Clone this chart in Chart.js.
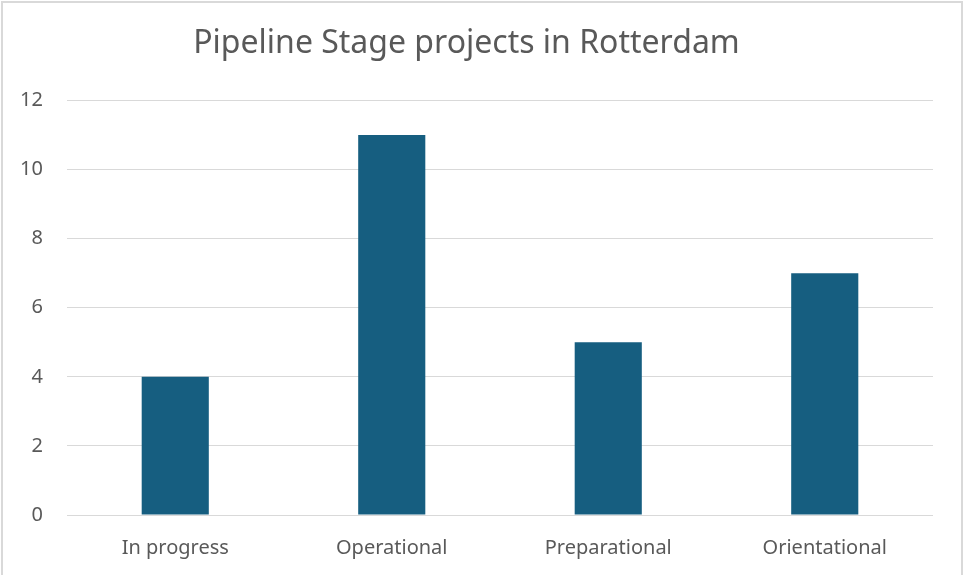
<!DOCTYPE html>
<html>
<head>
<meta charset="utf-8">
<script src="https://cdn.jsdelivr.net/npm/chart.js@4"></script>
<style>
  body { margin: 0; background: #fff; }
  #wrap { position: relative; width: 963px; height: 575px; }
  #frame {
    position: absolute; left: 1px; top: 1px; width: 958px; height: 580px;
    border: 2px solid #d9d9d9; pointer-events: none;
  }
</style>
</head>
<body>
<div id="wrap">
  <canvas id="chart" width="963" height="575"></canvas>
  <div id="frame"></div>
</div>
<script>
const categories = ["In progress", "Operational", "Preparational", "Orientational"];
const projects = [4, 11, 5, 7];
const yTicks = [0, 2, 4, 6, 8, 10, 12];

const textColor = "#595959";
const gridColor = "#d9d9d9";

new Chart(document.getElementById("chart"), {
  type: "bar",
  data: {
    labels: categories,
    datasets: [
      {
        label: "Projects",
        data: projects,
        backgroundColor: "#165e80",
        barPercentage: 0.31,
        categoryPercentage: 1,
      },
    ],
  },
  options: {
    responsive: false,
    animation: false,
    layout: { padding: { left: 0, right: 30, top: 0, bottom: 0 } },
    plugins: {
      legend: { display: false },
      tooltip: { enabled: false },
      title: {
        display: true,
        text: "Pipeline Stage projects in Rotterdam",
        color: textColor,
        font: { family: "Noto Sans", size: 32, weight: "normal", lineHeight: 1.2 },
        padding: { top: 25, bottom: 37 },
      },
    },
    scales: {
      x: {
        grid: { display: false },
        border: { display: false },
        ticks: {
          color: textColor,
          font: { family: "Noto Sans", size: 20 },
          padding: 13,
        },
        afterFit: (scale) => { scale.height = 60; },
      },
      y: {
        min: 0,
        max: 12,
        afterBuildTicks: (scale) => {
          scale.ticks = yTicks.map((v) => ({ value: v }));
        },
        grid: { color: gridColor, lineWidth: 1, drawTicks: false },
        border: { display: false },
        ticks: {
          color: textColor,
          font: { family: "Noto Sans", size: 20 },
          padding: 24,
        },
        afterFit: (scale) => { scale.width = 67; },
      },
    },
  },
});
</script>
</body>
</html>
